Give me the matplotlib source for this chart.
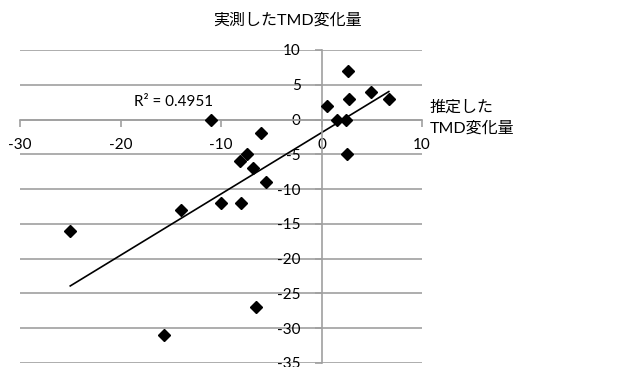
import numpy as np
import matplotlib
matplotlib.use('Agg')
import matplotlib.pyplot as plt

plt.rcParams['font.family'] = ['Lato', 'Noto Sans CJK JP', 'DejaVu Sans']

# estimated TMD change (x) vs measured TMD change (y)
est_tmd = [-25.0, -14.0, -10.0, -8.0, -8.1, -7.4, -6.8, -5.5, -6.0, -11.0,
           0.5, 1.5, 2.4, 2.6, 2.7, 4.9, 6.7, 2.5, -6.5, -15.7]
meas_tmd = [-16.0, -13.0, -12.0, -12.0, -6.0, -5.0, -7.0, -9.0, -2.0, 0.0,
            2.0, 0.0, 0.0, 7.0, 3.0, 4.0, 3.0, -5.0, -27.0, -31.0]

x_ticks = [-30, -20, -10, 0, 10]
y_ticks = [10, 5, 0, -5, -10, -15, -20, -25, -30, -35]
r2_label = 'R² = 0.4951'
title = '実測したTMD変化量'
x_title = '推定した\nTMD変化量'

gray = '#a0a0a0'

fig = plt.figure(figsize=(6.44, 3.67), dpi=100)
ax = fig.add_axes([20/644, 1-363/367, 402/644, 313/367])

ax.set_xlim(-30, 10)
ax.set_ylim(-35, 10)

for yv in y_ticks:
    ax.axhline(yv, color=gray, lw=1.2, zorder=0)

# trendline (linear fit)
x = np.array(est_tmd)
y = np.array(meas_tmd)
k, b = np.polyfit(x, y, 1)
xs = np.array([x.min(), x.max()])
ax.plot(xs, k*xs + b, color='black', lw=1.2, zorder=2)

ax.plot(x, y, linestyle='none', marker='D', ms=5.8, color='black', zorder=3)

for s in ['top', 'right']:
    ax.spines[s].set_visible(False)
ax.spines['left'].set_position(('data', 0))
ax.spines['bottom'].set_position(('data', 0))
ax.spines['left'].set_color(gray)
ax.spines['bottom'].set_color(gray)
ax.spines['left'].set_linewidth(1.2)
ax.spines['bottom'].set_linewidth(1.2)

ax.set_xticks(x_ticks)
ax.set_xticklabels([str(v) for v in x_ticks])
ax.set_yticks(y_ticks)
ax.set_yticklabels([str(v) for v in y_ticks])
ax.tick_params(axis='x', direction='out', length=5, width=1.2, color=gray,
               labelsize=11, pad=8)
ax.tick_params(axis='y', direction='out', length=5, width=1.2, color=gray,
               labelsize=11, pad=10)

fig.text(287/644, 1-20/367, title, ha='center', va='center', fontsize=11.5)
fig.text(430/644, 1-118/367, x_title, ha='left', va='center', fontsize=11.5,
         linespacing=1.5)
ax.text(134/644, 1-102/367, r2_label, transform=fig.transFigure,
        ha='left', va='center', fontsize=11)

fig.savefig('out.png', dpi=100)
